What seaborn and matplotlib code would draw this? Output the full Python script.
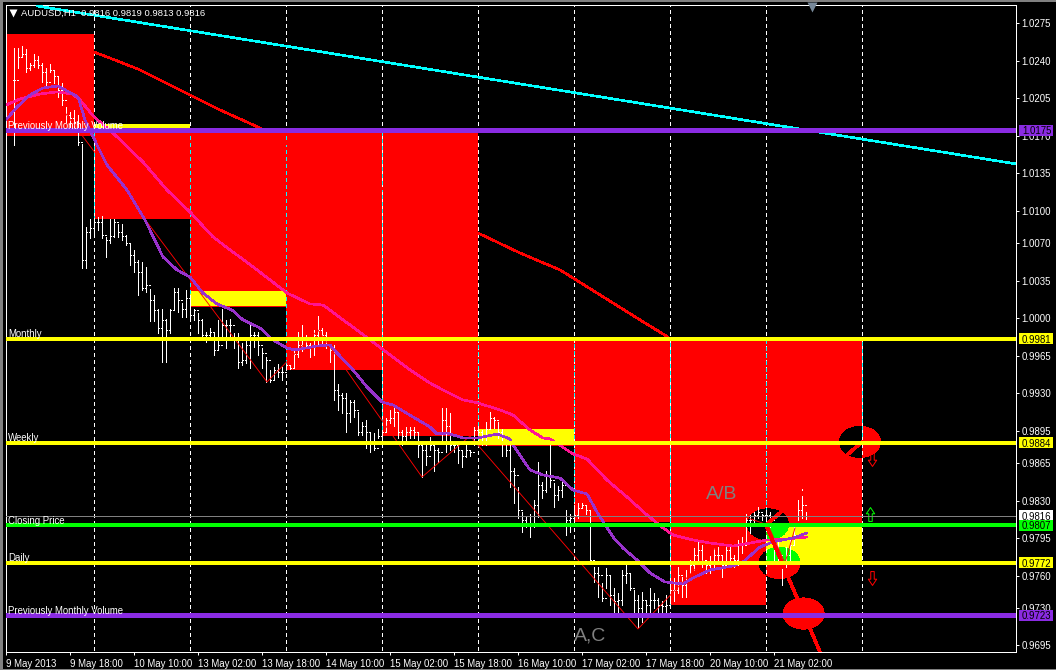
import numpy as np
import pandas as pd
import seaborn as sns
import matplotlib
matplotlib.use('Agg')
import matplotlib.pyplot as plt
from matplotlib.patches import Rectangle, Ellipse
from matplotlib.path import Path

# H1 bars, first one sits two hours after the left edge of the chart
highs = [1.0252, 1.0252, 1.0254, 1.0251, 1.0238, 1.0246, 1.0244, 1.0238, 1.0233, 1.0237,
         1.0231, 1.0225, 1.0219, 1.0197, 1.0192, 1.0194, 1.0189, 1.0162, 1.0085, 1.0092,
         1.0093, 1.0094, 1.0095, 1.0076, 1.0092, 1.0092, 1.0088, 1.0088, 1.0078, 1.0070,
         1.0064, 1.0054, 1.0052, 1.0048, 1.0027, 1.0022, 1.0009, 1.0009, 0.9999, 1.0009,
         1.0028, 1.0028, 1.0014, 1.0026, 1.0022, 1.0009, 1.0005, 0.9999, 0.9987, 0.9991,
         0.9987, 0.9998, 1.0009, 0.9998, 0.9999, 0.9986, 0.9986, 0.9977, 0.9980, 0.9994,
         0.9987, 0.9987, 0.9972, 0.9964, 0.9952, 0.9955, 0.9957, 0.9955, 0.9957, 0.9956,
         0.9969, 0.9987, 0.9994, 0.9984, 0.9977, 0.9989, 1.0002, 0.9991, 0.9987, 0.9975,
         0.9975, 0.9939, 0.9930, 0.9930, 0.9924, 0.9924, 0.9913, 0.9903, 0.9905, 0.9893,
         0.9893, 0.9897, 0.9896, 0.9907, 0.9914, 0.9916, 0.9913, 0.9896, 0.9899, 0.9899,
         0.9899, 0.9894, 0.9882, 0.9886, 0.9889, 0.9882, 0.9879, 0.9916, 0.9916, 0.9912,
         0.9884, 0.9885, 0.9877, 0.9884, 0.9877, 0.9899, 0.9900, 0.9896, 0.9903, 0.9913,
         0.9908, 0.9903, 0.9897, 0.9882, 0.9882, 0.9860, 0.9843, 0.9819, 0.9815, 0.9818,
         0.9831, 0.9866, 0.9847, 0.9858, 0.9882, 0.9846, 0.9844, 0.9847, 0.9821, 0.9818,
         0.9826, 0.9828, 0.9828, 0.9826, 0.9821, 0.9768, 0.9768, 0.9753, 0.9767, 0.9761,
         0.9749, 0.9744, 0.9765, 0.9770, 0.9763, 0.9747, 0.9742, 0.9745, 0.9736, 0.9749,
         0.9744, 0.9739, 0.9736, 0.9742, 0.9756, 0.9758, 0.9768, 0.9759, 0.9765, 0.9775,
         0.9786, 0.9791, 0.9789, 0.9775, 0.9778, 0.9786, 0.9787, 0.9778, 0.9789, 0.9787,
         0.9779, 0.9793, 0.9796, 0.9818, 0.9817, 0.9819, 0.9824, 0.9818, 0.9821, 0.9819,
         0.9793, 0.9791, 0.9772, 0.9787, 0.9793, 0.9805, 0.9831, 0.9841, 0.9819]
lows = [1.0161, 1.0233, 1.0243, 1.0229, 1.0231, 1.0234, 1.0233, 1.0220, 1.0217, 1.0229,
        1.0219, 1.0206, 1.0199, 1.0183, 1.0178, 1.0178, 1.0161, 1.0047, 1.0047, 1.0075,
        1.0076, 1.0082, 1.0075, 1.0057, 1.0070, 1.0076, 1.0076, 1.0073, 1.0068, 1.0050,
        1.0043, 1.0022, 1.0026, 1.0024, 0.9997, 0.9997, 0.9986, 0.9959, 0.9959, 0.9986,
        1.0008, 1.0006, 1.0001, 1.0001, 1.0000, 0.9998, 0.9986, 0.9982, 0.9978, 0.9982,
        0.9966, 0.9970, 0.9982, 0.9972, 0.9981, 0.9972, 0.9954, 0.9956, 0.9958, 0.9954,
        0.9973, 0.9966, 0.9954, 0.9941, 0.9941, 0.9942, 0.9945, 0.9942, 0.9952, 0.9953,
        0.9954, 0.9964, 0.9969, 0.9972, 0.9964, 0.9966, 0.9975, 0.9977, 0.9972, 0.9959,
        0.9924, 0.9914, 0.9912, 0.9894, 0.9903, 0.9908, 0.9891, 0.9891, 0.9879, 0.9875,
        0.9877, 0.9888, 0.9888, 0.9894, 0.9902, 0.9900, 0.9888, 0.9882, 0.9886, 0.9888,
        0.9888, 0.9871, 0.9852, 0.9863, 0.9877, 0.9858, 0.9866, 0.9886, 0.9875, 0.9877,
        0.9875, 0.9865, 0.9861, 0.9871, 0.9872, 0.9882, 0.9888, 0.9882, 0.9882, 0.9898,
        0.9898, 0.9888, 0.9872, 0.9872, 0.9843, 0.9828, 0.9814, 0.9801, 0.9805, 0.9796,
        0.9805, 0.9815, 0.9832, 0.9838, 0.9843, 0.9824, 0.9831, 0.9833, 0.9798, 0.9801,
        0.9807, 0.9814, 0.9823, 0.9818, 0.9772, 0.9754, 0.9740, 0.9736, 0.9749, 0.9733,
        0.9726, 0.9726, 0.9733, 0.9753, 0.9747, 0.9722, 0.9712, 0.9717, 0.9723, 0.9726,
        0.9730, 0.9723, 0.9725, 0.9723, 0.9735, 0.9736, 0.9744, 0.9740, 0.9740, 0.9763,
        0.9765, 0.9772, 0.9768, 0.9763, 0.9763, 0.9768, 0.9775, 0.9759, 0.9772, 0.9768,
        0.9768, 0.9770, 0.9781, 0.9790, 0.9800, 0.9810, 0.9814, 0.9812, 0.9803, 0.9805,
        0.9775, 0.9775, 0.9751, 0.9768, 0.9773, 0.9789, 0.9812, 0.9814, 0.9813]
closes = [1.0222, 1.0243, 1.0246, 1.0233, 1.0236, 1.0241, 1.0236, 1.0229, 1.0220, 1.0231,
          1.0226, 1.0213, 1.0203, 1.0189, 1.0187, 1.0183, 1.0164, 1.0054, 1.0080, 1.0084,
          1.0090, 1.0090, 1.0078, 1.0073, 1.0077, 1.0090, 1.0080, 1.0077, 1.0070, 1.0059,
          1.0052, 1.0043, 1.0028, 1.0031, 1.0017, 1.0008, 0.9991, 0.9998, 0.9989, 1.0008,
          1.0024, 1.0017, 1.0009, 1.0019, 1.0003, 1.0008, 0.9998, 0.9984, 0.9984, 0.9987,
          0.9970, 0.9975, 0.9994, 0.9994, 0.9994, 0.9980, 0.9959, 0.9961, 0.9975, 0.9984,
          0.9984, 0.9975, 0.9968, 0.9961, 0.9942, 0.9952, 0.9950, 0.9950, 0.9956, 0.9954,
          0.9967, 0.9975, 0.9980, 0.9975, 0.9973, 0.9984, 0.9989, 0.9984, 0.9981, 0.9970,
          0.9933, 0.9928, 0.9926, 0.9912, 0.9922, 0.9914, 0.9894, 0.9900, 0.9894, 0.9886,
          0.9879, 0.9890, 0.9894, 0.9905, 0.9907, 0.9913, 0.9894, 0.9890, 0.9894, 0.9896,
          0.9894, 0.9882, 0.9877, 0.9872, 0.9882, 0.9877, 0.9875, 0.9905, 0.9900, 0.9882,
          0.9882, 0.9877, 0.9872, 0.9877, 0.9875, 0.9896, 0.9894, 0.9890, 0.9897, 0.9907,
          0.9905, 0.9894, 0.9890, 0.9877, 0.9858, 0.9854, 0.9821, 0.9812, 0.9807, 0.9807,
          0.9826, 0.9845, 0.9840, 0.9854, 0.9849, 0.9835, 0.9840, 0.9845, 0.9812, 0.9814,
          0.9817, 0.9823, 0.9826, 0.9821, 0.9775, 0.9763, 0.9761, 0.9739, 0.9761, 0.9742,
          0.9736, 0.9737, 0.9761, 0.9763, 0.9749, 0.9737, 0.9730, 0.9737, 0.9733, 0.9737,
          0.9737, 0.9733, 0.9732, 0.9733, 0.9747, 0.9747, 0.9761, 0.9751, 0.9756, 0.9770,
          0.9779, 0.9784, 0.9775, 0.9770, 0.9773, 0.9779, 0.9779, 0.9770, 0.9784, 0.9777,
          0.9775, 0.9789, 0.9789, 0.9812, 0.9812, 0.9817, 0.9819, 0.9817, 0.9817, 0.9812,
          0.9789, 0.9779, 0.9765, 0.9779, 0.9789, 0.9798, 0.9821, 0.9826, 0.9816]
first_bar = 2

pink_hours = [0, 3.5, 8.5, 12.75, 16.5, 18.5, 22, 26.75, 34.25, 40.25, 46, 51.75, 56.75, 62.75,
              70.25, 76, 79.25, 86, 101, 106, 109.25, 114.25, 118, 123.5, 126.75, 131, 134.25,
              136, 138, 141.75, 145.25, 150.25, 155.25, 160.25, 164, 166.75, 171.75, 176,
              181.75, 186, 190.25, 195.25, 200.25]
pink_ma = [1.01987, 1.02043, 1.02090, 1.02109, 1.02090, 1.02034, 1.01876, 1.01726, 1.01456,
           1.01195, 1.00990, 1.00757, 1.00617, 1.00450, 1.00235, 1.00133, 1.00123, 0.99937,
           0.99518, 0.99396, 0.99331, 0.99238, 0.99210, 0.99145, 0.99098, 0.98958, 0.98884,
           0.98875, 0.98828, 0.98735, 0.98688, 0.98492, 0.98334, 0.98166, 0.98054, 0.97980,
           0.97933, 0.97905, 0.97877, 0.97905, 0.97933, 0.97943, 0.97961]
violet_hours = [0, 2.75, 6, 9.25, 13, 15.25, 18, 19.75, 22.75, 25.25, 30.25, 34.75, 39.25, 42.75,
                46, 49.25, 52.75, 56.5, 59.25, 63.5, 66.75, 70.25, 72.25, 77.75, 81, 82.75,
                86.75, 90.25, 94, 96.75, 101.75, 106, 107.75, 110.25, 114.25, 118, 122.75, 126,
                126.75, 131, 134.25, 138.5, 141.75, 145.25, 147.75, 151.75, 154.25, 157.75, 161,
                164.75, 169.25, 171.75, 176, 181.75, 184.25, 188.5, 191.75, 196.75, 200.25]
violet_ma = [1.01848, 1.01969, 1.02081, 1.02146, 1.02164, 1.02118, 1.02062, 1.01848, 1.01615,
             1.01428, 1.01195, 1.00916, 1.00571, 1.00450, 1.00384, 1.00235, 1.00133, 1.00077,
             0.99984, 0.99909, 0.99797, 0.99723, 0.99704, 0.99741, 0.99751, 0.99676, 0.99518,
             0.99359, 0.99219, 0.99191, 0.99080, 0.98986, 0.98921, 0.98930, 0.98884, 0.98884,
             0.98921, 0.98875, 0.98819, 0.98586, 0.98539, 0.98511, 0.98399, 0.98362, 0.98194,
             0.97961, 0.97859, 0.97747, 0.97626, 0.97542, 0.97523, 0.97579, 0.97654, 0.97691,
             0.97728, 0.97868, 0.97915, 0.97952, 0.97998]
slow_hours = [22, 28.5, 33.5, 46, 53.5, 63.5, 71, 118, 128.5, 138.5, 148.5, 158.5, 165.5]
slow_ma = [1.02481, 1.02388, 1.02314, 1.02081, 1.01941, 1.01773, 1.01615, 1.00794, 1.00608,
           1.00450, 1.00217, 0.99984, 0.99825]

zigzag_hours = [13.5, 65.25, 78, 104, 116, 158, 184.75, 190.5, 194.75, 197.25]
zigzag_price = [1.01978, 0.99406, 0.99890, 0.98520, 0.98902, 0.97104, 0.98148, 0.98073, 0.97719, 0.98045]
thick_hours = [214, 190, 203.5]
thick_price = [0.98847, 0.98073, 0.96889]
trend_hours = [7.75, 252.5]
trend_price = [1.0291, 1.01438]

# supply / demand boxes
red_start = [0, 22, 46, 70, 94, 118, 142, 166, 190]
red_end = [22, 46, 70, 94, 118, 142, 166, 190, 214]
red_top = [1.0265, 1.0175, 1.0175, 1.0175, 1.0175, 0.9981, 0.9981, 0.9981, 0.9981]
red_bottom = [1.0170, 1.0092, 1.0010, 0.9952, 0.9890, 0.9881, 0.9810, 0.9733, 0.9807]
yellow_start = [22, 46, 118, 190]
yellow_end = [46, 70, 142, 214]
yellow_top = [1.0181, 1.0025, 0.9897, 0.9807]
yellow_bottom = [1.0175, 1.0011, 0.9882, 0.9772]

# day separators, cyan where they cross a box
day_lines = [22, 46, 70, 94, 118, 142, 166, 190, 214]
cyan_top = [1.0175, 1.0175, 1.0175, 1.0175, 0.9981, 0.9981, 0.9981, 0.9981, 0.9981]
cyan_bottom = [1.0092, 1.0010, 0.9952, 0.9890, 0.9881, 0.9810, 0.9733, 0.9807, 0.9884]

# horizontal levels
level_price = [1.0175, 0.9981, 0.9884, 0.9807, 0.9772, 0.9723]
level_color = ['#8A2BE2', '#FFFF00', '#FFFF00', '#00FF00', '#FFFF00', '#8A2BE2']
level_width = [5, 4, 4, 4, 4, 5]
level_names = ['Previously Monthly Volume', 'Monthly', 'Weekly', 'Closing Price', 'Daily',
               'Previously Monthly Volume']
last_price = 0.9816

y_ticks = [1.0275, 1.0240, 1.0205, 1.0170, 1.0135, 1.0100, 1.0070, 1.0035, 1.0000,
           0.9965, 0.9930, 0.9895, 0.9865, 0.9830, 0.9795, 0.9760, 0.9730, 0.9695]
x_ticks = [0, 16, 32, 48, 64, 80, 96, 112, 128, 144, 160, 176, 192]
x_labels = ['9 May 2013', '9 May 18:00', '10 May 10:00', '13 May 02:00', '13 May 18:00',
            '14 May 10:00', '15 May 02:00', '15 May 18:00', '16 May 10:00', '17 May 02:00',
            '17 May 18:00', '20 May 10:00', '21 May 02:00']

# round blobs of the pattern indicator, colour flips with what is underneath
blob_hour = [213.5, 199.4, 193.4, 190.5]
blob_price = [0.98847, 0.97248, 0.97719, 0.98078]
blob_pieces = [
    [(0, 214, 0.9, 1.1, 'black'), (214, 260, 0.9, 1.1, '#FF0000')],
    [(0, 260, 0.9, 1.1, '#FF0000')],
    [(0, 190, 0.9, 1.1, 'black'), (190, 260, 0.9772, 1.1, '#00FF00'), (190, 260, 0.9, 0.9772, '#FF0000')],
    [(0, 260, 0.9807, 1.1, 'black'), (0, 190, 0.9, 0.9807, 'black'), (190, 260, 0.9, 0.9807, '#00FF00')],
]

up_arrow_hour = [216]
up_arrow_price = [0.9818]
down_arrow_hour = [216.5, 216.5]
down_arrow_price = [0.9869, 0.9758]

W, H = 1056, 670
px = 0.72  # one screen pixel in points at dpi 100
label_size = 6.9

sns.set_theme(style='dark')
plt.rcParams['font.family'] = ['Liberation Sans', 'DejaVu Sans']
plt.rcParams['font.size'] = label_size

fig = plt.figure(figsize=(W / 100, H / 100), dpi=100, facecolor='black')
ax = fig.add_axes([6 / W, (H - 651.5) / H, 1010 / W, 646.5 / H], facecolor='black')

for a, b, t, m in zip(red_start, red_end, red_top, red_bottom):
    ax.add_patch(Rectangle((a, m), b - a, t - m, fc='#FF0000', ec='none', aa=False, zorder=1))
for a, b, t, m in zip(yellow_start, yellow_end, yellow_top, yellow_bottom):
    ax.add_patch(Rectangle((a, m), b - a, t - m, fc='#FFFF00', ec='none', aa=False, zorder=1.1))

for h, p, pieces in zip(blob_hour, blob_price, blob_pieces):
    for x0, x1, y0, y1, col in pieces:
        e = Ellipse((h, p), 10.25, 0.0029, fc=col, ec='none', aa=False, zorder=2)
        ax.add_patch(e)
        e.set_clip_path(Rectangle((x0, y0), x1 - x0, y1 - y0, transform=ax.transData))

ax.vlines(day_lines, 0.9, 1.1, colors='white', linestyles=(0, (3, 3)), lw=px, zorder=3, antialiased=False)
ax.vlines(day_lines, cyan_bottom, cyan_top, colors='#00FFFF', linestyles=(0, (3, 3)), lw=px, zorder=3.1, antialiased=False)

bars = pd.DataFrame({'high': highs, 'low': lows, 'close': closes})
bars['hour'] = np.arange(len(bars)) + first_bar
bars['open'] = bars['close'].shift(1).fillna(bars['close'])
ax.vlines(bars['hour'], bars['low'], bars['high'], colors='white', lw=px, zorder=4, antialiased=False)
ax.hlines(bars['close'], bars['hour'], bars['hour'] + 0.3, colors='white', lw=px, zorder=4, antialiased=False)
ax.hlines(bars['open'], bars['hour'] - 0.3, bars['hour'], colors='white', lw=px, zorder=4, antialiased=False)


def draw_line(xs, ys, color, width, z, smooth=False):
    sns.lineplot(x=xs, y=ys, color=color, ax=ax, zorder=z, sort=False, estimator=None,
                 linewidth=width * px, antialiased=smooth)


draw_line(zigzag_hours, zigzag_price, '#FF0000', 0.9, 4.5, smooth=True)
draw_line(slow_hours, slow_ma, '#FF0000', 1.6, 5)
draw_line(pink_hours, pink_ma, '#FF1493', 1.6, 5.1)
draw_line(violet_hours, violet_ma, '#9932CC', 1.6, 5.2)
draw_line(thick_hours, thick_price, '#FF0000', 2.6, 5.3)
draw_line(trend_hours, trend_price, '#00FFFF', 1.6, 5.4)

# hollow up/down arrows
arrow = Path([(-0.25, -1), (0.25, -1), (0.25, 0.1), (0.6, 0.1), (0, 1), (-0.6, 0.1), (-0.25, 0.1), (-0.25, -1)])
flipped = Path(arrow.vertices * [1, -1])
ax.plot(up_arrow_hour, up_arrow_price, ls='none', marker=arrow, ms=10, mfc='none', mec='#00FF00', mew=px, zorder=6)
ax.plot(down_arrow_hour, down_arrow_price, ls='none', marker=flipped, ms=10, mfc='none', mec='#FF0000', mew=px, zorder=6)

ax.axhline(last_price, color='#808080', lw=px, zorder=6.5, antialiased=False)


def price_box(p, color, z):
    tr = ax.get_yaxis_transform()
    ax.add_patch(Rectangle((1013 / 1010, p - 0.00052), 34 / 1010, 0.00104, transform=tr, fc=color, ec='none',
                           clip_on=False, zorder=z))
    ax.text(1016 / 1010, p, '%.4f' % p, transform=tr, color='black', va='center_baseline', ha='left',
            fontsize=label_size, clip_on=False, zorder=z + 0.1)


price_box(last_price, 'white', 8.5)
for p, c, w, name in zip(level_price, level_color, level_width, level_names):
    ax.axhline(p, color=c, lw=w * px, zorder=7, antialiased=False)
    ax.annotate(name, (0.5, p), xytext=(0, 1.2), textcoords='offset points', color='white',
                va='baseline', ha='left', zorder=8, fontsize=label_size)
    price_box(p, c, 9)

ax.text(179, 0.9836, 'A/B', color='#808080', fontsize=14, va='center', ha='center', zorder=6)
ax.text(146, 0.9704, 'A,C', color='#808080', fontsize=14, va='center', ha='center', zorder=6)

ax.plot([1.75], [1.0284], ls='none', marker='v', ms=5.5, mfc='white', mec='none', zorder=9)
ax.text(3.75, 1.0284, 'AUDUSD,H1  0.9816 0.9819 0.9813 0.9816', color='white', va='center', ha='left',
        fontsize=6.8, zorder=9)
ax.plot([201.5], [1.0290], ls='none', marker='v', ms=6.5, mfc='#778899', mec='none', zorder=9, clip_on=False)

ax.set_xlim(0, 252.5)
ax.set_ylim(0.96894, 1.02919)
ax.yaxis.tick_right()
ax.set_yticks(y_ticks)
ax.set_yticklabels(['%.4f' % v for v in y_ticks])
ax.set_xticks(x_ticks)
ax.set_xticklabels(x_labels, ha='left')
ax.tick_params(axis='both', colors='white', length=3 * px, width=px, pad=2, labelsize=label_size,
               bottom=True, right=True, left=False)
ax.tick_params(axis='x', pad=3)
ax.grid(False)
for s in ax.spines.values():
    s.set_color('white')
    s.set_linewidth(px)
    s.set_visible(True)
ax.set_xlabel('')
ax.set_ylabel('')

# window frame bits around the chart
fig.add_artist(Rectangle((0, 0), 3 / W, 1, transform=fig.transFigure, fc='#808080', ec='none'))
fig.add_artist(Rectangle((0, 1 - 2 / H), 1, 2 / H, transform=fig.transFigure, fc='#808080', ec='none'))
fig.add_artist(Rectangle((0, 0), 1, 1 / H, transform=fig.transFigure, fc='#808080', ec='none'))

fig.savefig('out.png', dpi=100, facecolor='black')
